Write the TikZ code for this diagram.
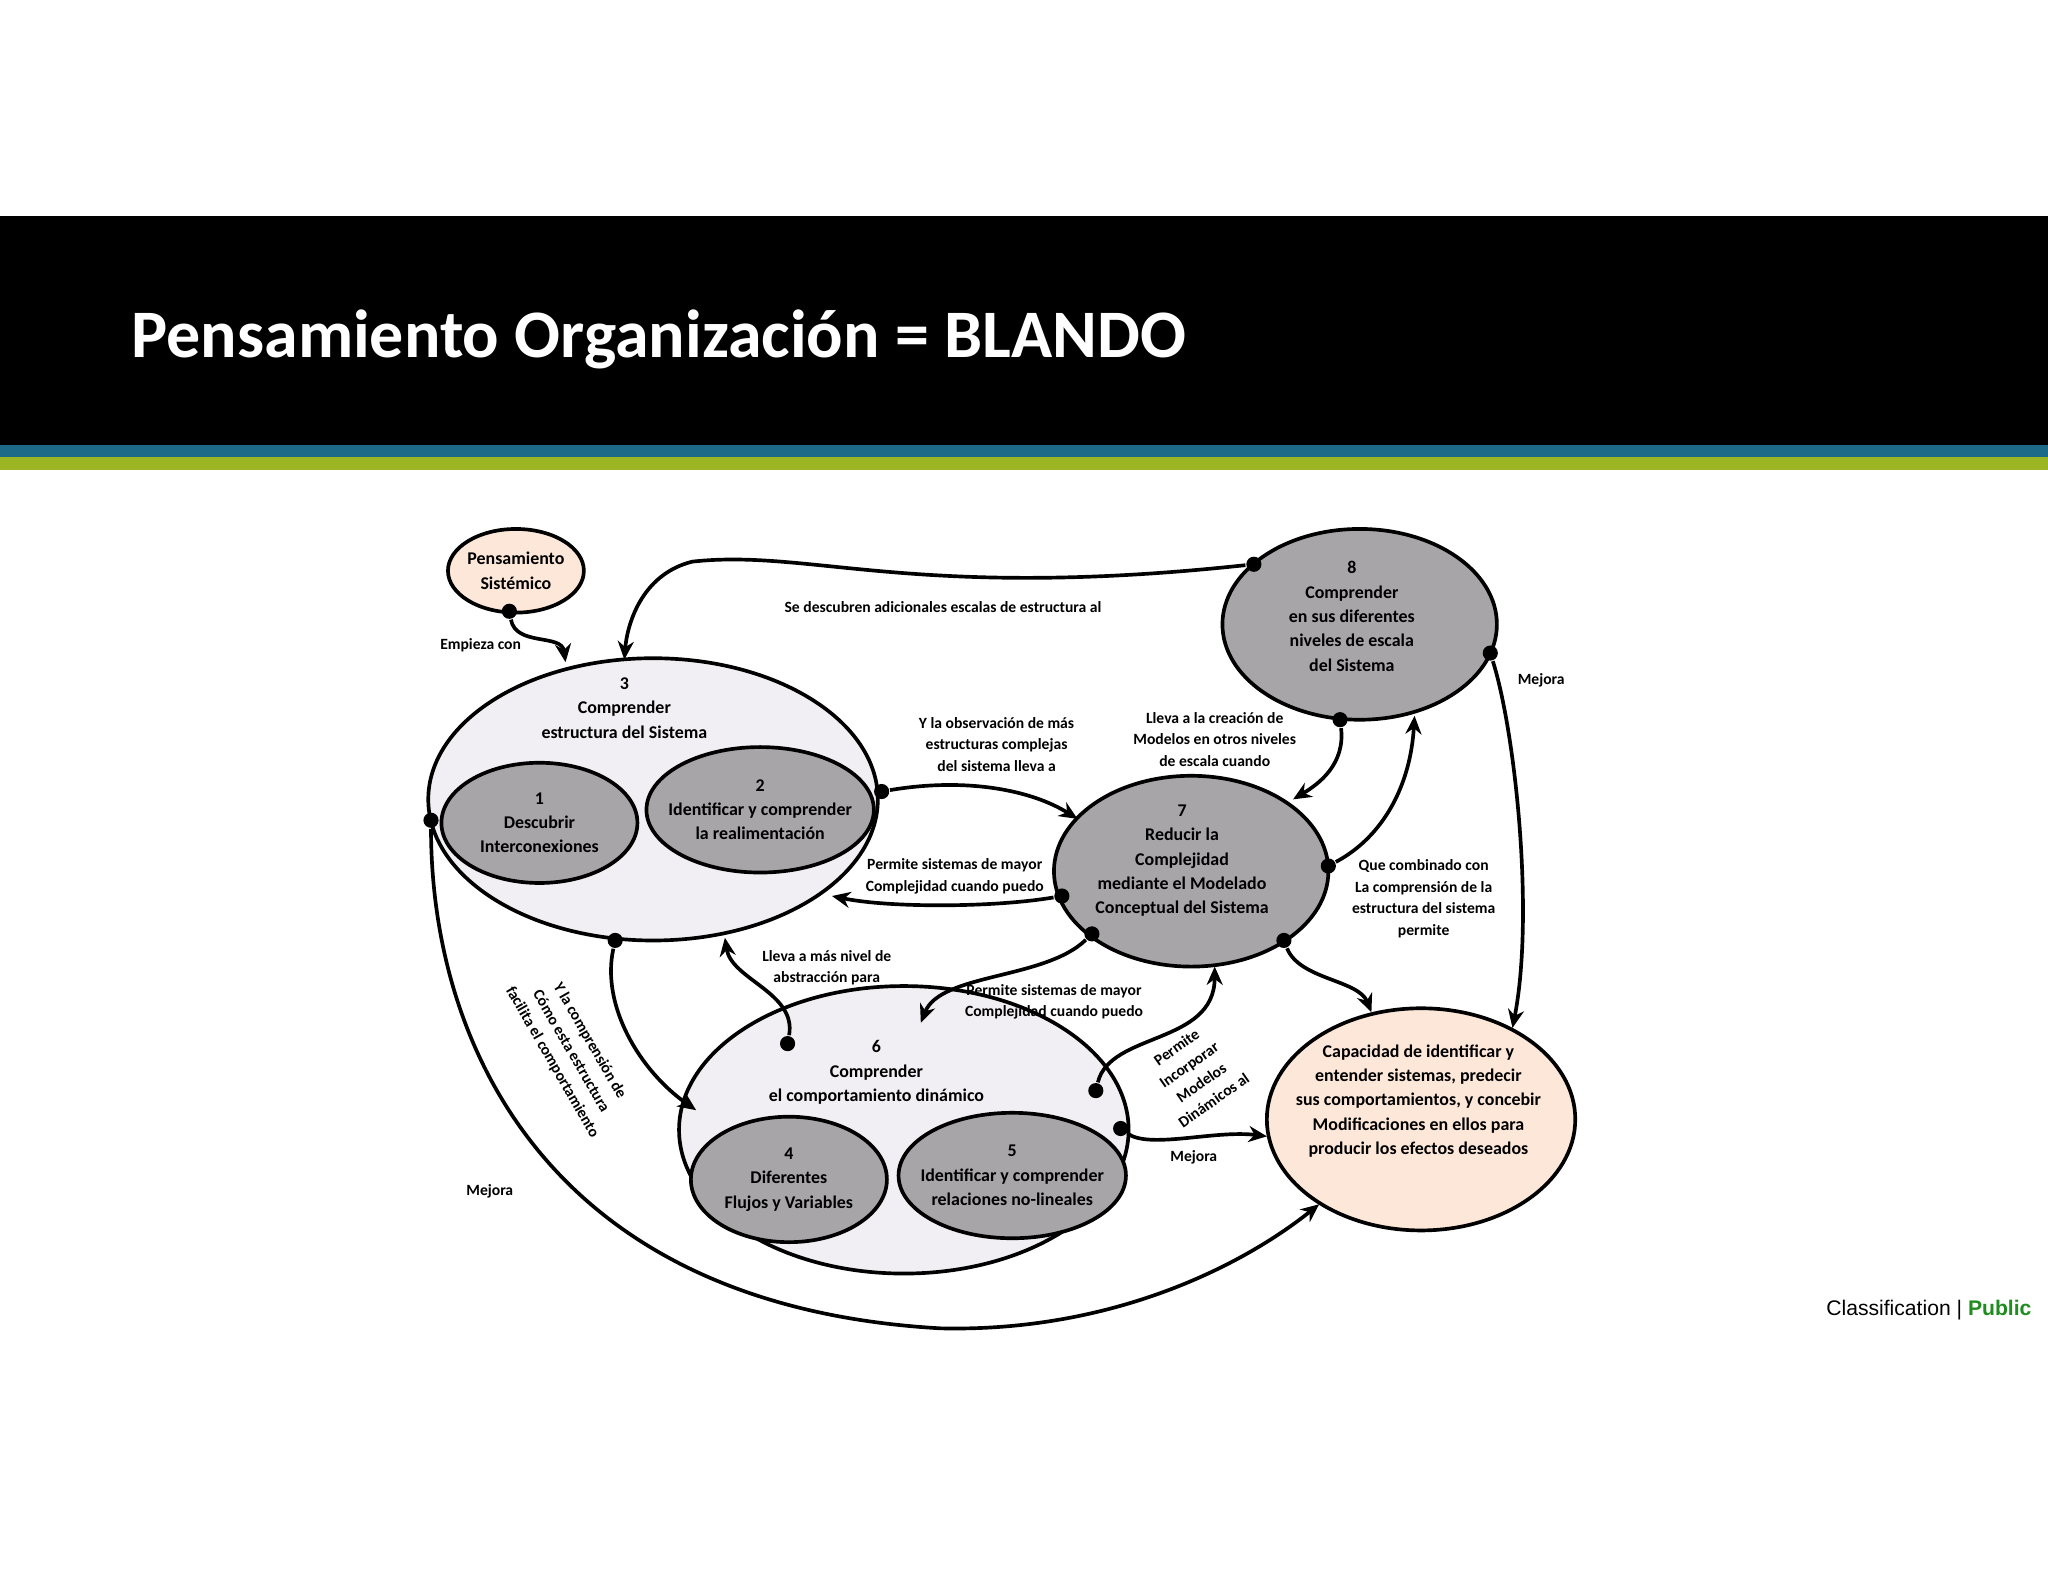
\documentclass[tikz,border=0pt]{standalone}
\usepackage{fontspec}
\setmainfont{Carlito}
\newfontfamily\arialf{Liberation Sans}
\usetikzlibrary{shapes.geometric,arrows.meta}
\definecolor{lgray}{HTML}{F1EFF3}
\definecolor{dgray}{HTML}{A7A5A8}
\definecolor{peach}{HTML}{FCE7D8}
\definecolor{bandblue}{HTML}{1C6A87}
\definecolor{bandgreen}{HTML}{9BB524}
\definecolor{pubgreen}{HTML}{1E8C1E}
\tikzset{
 ell/.style={ellipse,draw=black,line width=0.8pt,inner sep=0pt},
 etxt/.style={align=center,inner sep=0pt,font=\fontsize{3.9}{5.3}\selectfont\bfseries},
 lbl/.style={align=center,font=\fontsize{3.4}{4.7}\selectfont\bfseries,inner sep=0pt},
 conn/.style={line width=0.8pt,-{Stealth[length=4pt,width=3.5pt]}},
 dot/.style={circle,fill=black,inner sep=0pt,minimum size=3.3pt}
}
\begin{document}
\begin{tikzpicture}[x=0.01cm,y=-0.01cm]
\useasboundingbox (0,0) rectangle (1568,1211);
\fill[white] (0,0) rectangle (1568,1211);
\fill[black] (0,165) rectangle (1568,341);
\fill[bandblue] (0,341) rectangle (1568,350);
\fill[bandgreen] (0,350) rectangle (1568,360);
\node[anchor=west,text=white,font=\fontsize{14.8}{16}\selectfont\bfseries,inner sep=0pt] (title) at (100,260) {Pensamiento Organización = BLANDO};

\node[ell,fill=peach,minimum width=1.04cm,minimum height=0.64cm] (ps) at (395,437) {};
\node[etxt] (tps) at (ps) {Pensamiento\\Sistémico};
\node[ell,fill=lgray,minimum width=3.44cm,minimum height=2.16cm] (e3) at (500,612) {};
\node[etxt] (t3) at (478,542) {3\\Comprender\\estructura del Sistema};
\node[ell,fill=dgray,minimum width=1.5cm,minimum height=0.92cm] (e1) at (413,630) {};
\node[etxt] (t1) at (e1) {1\\Descubrir\\Interconexiones};
\node[ell,fill=dgray,minimum width=1.74cm,minimum height=0.96cm] (e2) at (582,620) {};
\node[etxt] (t2) at (e2) {2\\Identificar y comprender\\la realimentación};
\node[ell,fill=dgray,minimum width=2.1cm,minimum height=1.46cm] (e8) at (1041,478) {};
\node[etxt] (t8) at (1035,472) {8\\Comprender\\en sus diferentes\\niveles de escala\\del Sistema};
\node[ell,fill=dgray,minimum width=2.1cm,minimum height=1.46cm] (e7) at (912,667) {};
\node[etxt] (t7) at (905,659) {7\\Reducir la\\Complejidad\\mediante el Modelado\\Conceptual del Sistema};
\node[ell,fill=lgray,minimum width=3.44cm,minimum height=2.2cm] (e6) at (692,865) {};
\node[etxt] (t6) at (671,821) {6\\Comprender\\el comportamiento dinámico};
\node[ell,fill=dgray,minimum width=1.5cm,minimum height=0.96cm] (e4) at (604,903) {};
\node[etxt] (t4) at (e4) {4\\Diferentes\\Flujos y Variables};
\node[ell,fill=dgray,minimum width=1.74cm,minimum height=0.96cm] (e5) at (775,900) {};
\node[etxt] (t5) at (e5) {5\\Identificar y comprender\\relaciones no-lineales};
\node[ell,fill=peach,minimum width=2.36cm,minimum height=1.7cm] (ec) at (1088,857) {};
\node[etxt] (tc) at (1086,843) {Capacidad de identificar y\\entender sistemas, predecir\\sus comportamientos, y concebir\\Modificaciones en ellos para\\producir los efectos deseados};

% dots
\node[dot] (d0) at (390,468) {};
\node[dot] (d1) at (960,432) {};
\node[dot] (d2) at (675,606) {};
\node[dot] (d3) at (813,686) {};
\node[dot] (d4) at (1026,551) {};
\node[dot] (d5) at (1017,663) {};
\node[dot] (d6) at (1141,500) {};
\node[dot] (d7) at (983,720) {};
\node[dot] (d8) at (836,715) {};
\node[dot] (d9) at (471,720) {};
\node[dot] (d10) at (603,799) {};
\node[dot] (d11) at (839,835) {};
\node[dot] (d12) at (858,864) {};
\node[dot] (d13) at (330,628) {};

\coordinate (a0) at (433,507);
\coordinate (a1) at (478,505);
\coordinate (a2) at (825,627);
\coordinate (a3) at (637,686);
\coordinate (a4) at (990,612);
\coordinate (a5) at (1083,548);
\coordinate (a6) at (1158,787);
\coordinate (a7) at (1050,775);
\coordinate (a8) at (705,783);
\coordinate (a9) at (533,850);
\coordinate (a10) at (555,718);
\coordinate (a11) at (930,740);
\coordinate (a12) at (970,870);
\coordinate (a13) at (1010,922);

\draw[conn] (d0) .. controls (395,495) and (430,485) .. (a0);
\draw[conn] (d1) .. controls (700,460) and (620,420) .. (530,430) .. controls (490,440) and (480,480) .. (a1);
\draw[conn] (d2) .. controls (740,595) and (790,605) .. (a2);
\draw[conn] (d3) .. controls (760,695) and (680,695) .. (a3);
\draw[conn] (d4) .. controls (1030,585) and (1010,600) .. (a4);
\draw[conn] (d5) .. controls (1060,640) and (1080,600) .. (a5);
\draw[conn] (d6) .. controls (1160,560) and (1175,700) .. (a6);
\draw[conn] (d7) .. controls (995,750) and (1040,750) .. (a7);
\draw[conn] (d8) .. controls (800,750) and (720,745) .. (a8);
\draw[conn] (d9) .. controls (460,770) and (490,820) .. (a9);
\draw[conn] (d10) .. controls (610,760) and (560,750) .. (a10);
\draw[conn] (d11) .. controls (850,790) and (930,800) .. (a11);
\draw[conn] (d12) .. controls (880,880) and (930,865) .. (a12);
\draw[conn] (d13) .. controls (330,800) and (420,1000) .. (720,1017) .. controls (850,1020) and (950,970) .. (a13);

% labels
\node[lbl] (l0) at (368,494) {Empieza con};
\node[lbl] (l1) at (722,465) {Se descubren adicionales escalas de estructura al};
\node[lbl] (l2) at (763,570) {Y la observación de más\\estructuras complejas\\del sistema lleva a};
\node[lbl] (l3) at (731,671) {Permite sistemas de mayor\\Complejidad cuando puedo};
\node[lbl] (l4) at (930,566) {Lleva a la creación de\\Modelos en otros niveles\\de escala cuando};
\node[lbl] (l5) at (1180,521) {Mejora};
\node[lbl] (l6) at (1090,688) {Que combinado con\\La comprensión de la\\estructura del sistema\\permite};
\node[lbl] (l7) at (807,767) {Permite sistemas de mayor\\Complejidad cuando puedo};
\node[lbl,rotate=-60] (l8) at (437,805) {Y la comprensión de\\Cómo esta estructura\\facilita el comportamiento};
\node[lbl] (l9) at (633,741) {Lleva a más nivel de\\abstracción para};
\node[lbl,rotate=35] (l10) at (915,822) {Permite\\Incorporar\\Modelos\\Dinámicos al};
\node[lbl] (l11) at (914,886) {Mejora};
\node[lbl] (l12) at (375,912) {Mejora};

\node[anchor=east,inner sep=0pt,font=\arialf\fontsize{4.6}{5.5}\selectfont] (cls) at (1556,1003) {Classification | \textcolor{pubgreen}{\bfseries Public}};
\end{tikzpicture}
\end{document}
